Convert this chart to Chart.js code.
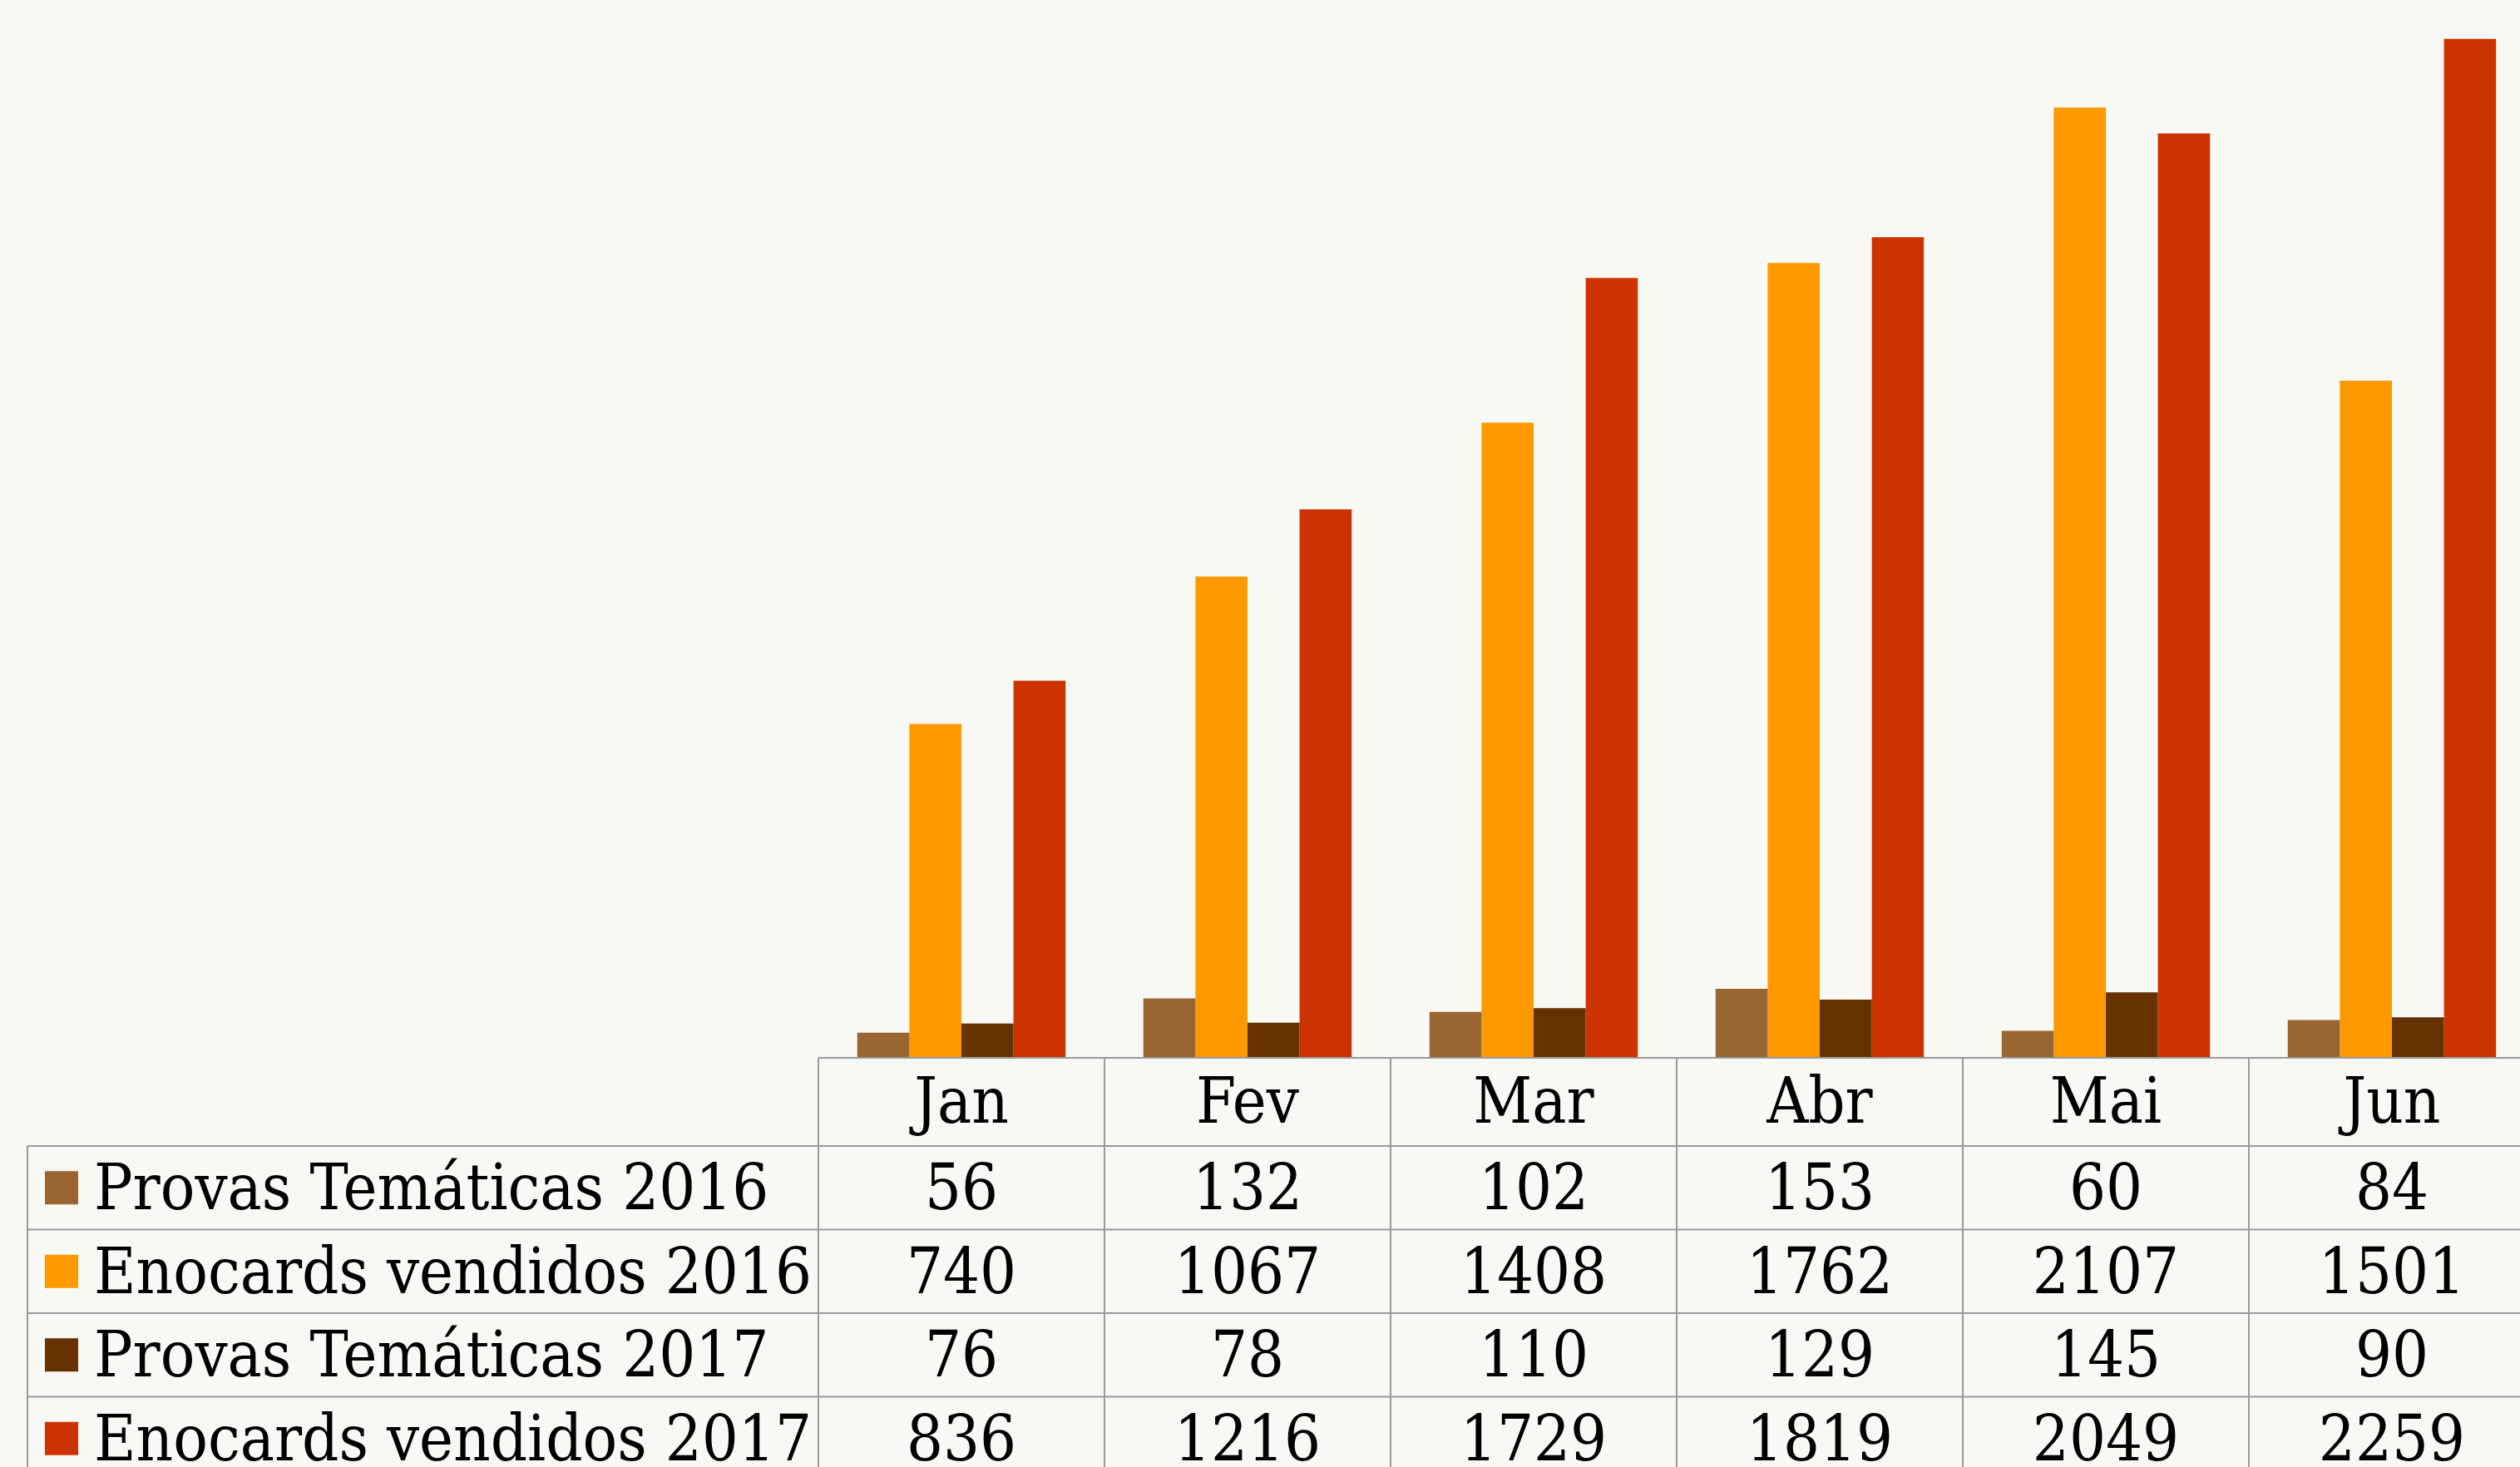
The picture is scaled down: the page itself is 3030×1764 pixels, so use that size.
<!DOCTYPE html>
<html>
<head>
<meta charset="utf-8">
<script src="https://cdn.jsdelivr.net/npm/chart.js@4.4.1/dist/chart.umd.min.js"></script>
<style>
  html, body { margin: 0; padding: 0; background: #f8f8f4; overflow: hidden; }
  body { width: 3030px; height: 1764px; position: relative; }
  #myChart { position: absolute; left: 0; top: -84px; }
</style>
</head>
<body>
<canvas id="myChart" width="3100" height="1900"></canvas>
<script>
// data
const meses = ['Jan', 'Fev', 'Mar', 'Abr', 'Mai', 'Jun'];
const provas2016 = [56, 132, 102, 153, 60, 84];
const enocards2016 = [740, 1067, 1408, 1762, 2107, 1501];
const provas2017 = [76, 78, 110, 129, 145, 90];
const enocards2017 = [836, 1216, 1729, 1819, 2049, 2259];
const series = ['Provas Temáticas 2016', 'Enocards vendidos 2016', 'Provas Temáticas 2017', 'Enocards vendidos 2017'];
const cores = ['#996633', '#ff9900', '#663300', '#cc3300'];

const FONT = '77px "DejaVu Serif Condensed", "DejaVu Serif", serif';

// tabela de dados por baixo do grafico (estilo Excel)
const tabela = {
  id: 'tabela',
  afterDraw(chart) {
    const ctx = chart.ctx;
    const area = chart.chartArea;
    const n = meses.length;
    const w = (area.right - area.left) / n;
    const headH = 106, rowH = 100.5;
    const legLeft = 33;
    const top = area.bottom;
    const headBottom = top + headH;
    const bottom = headBottom + rowH * series.length;

    ctx.save();
    ctx.strokeStyle = '#9a9a9a';
    ctx.lineWidth = 2;
    ctx.beginPath();
    // linha do eixo / topo do cabecalho
    ctx.moveTo(area.left, top);
    ctx.lineTo(area.right + 10, top);
    for (let i = 0; i <= n; i++) {
      const x = area.left + i * w;
      ctx.moveTo(x, top);
      ctx.lineTo(x, bottom);
    }
    for (let r = 0; r <= series.length; r++) {
      const y = headBottom + r * rowH;
      ctx.moveTo(legLeft, y);
      ctx.lineTo(area.right + 10, y);
    }
    ctx.moveTo(legLeft, headBottom);
    ctx.lineTo(legLeft, bottom);
    ctx.stroke();

    ctx.fillStyle = '#000';
    ctx.font = FONT;
    ctx.textBaseline = 'alphabetic';
    ctx.textAlign = 'center';
    meses.forEach((m, i) => {
      ctx.fillText(m, chart.scales.x.getPixelForValue(i), top + 78);
    });
    chart.data.datasets.forEach((ds, r) => {
      const y0 = headBottom + r * rowH;
      ds.data.forEach((v, i) => {
        ctx.fillStyle = '#000';
        ctx.textAlign = 'center';
        ctx.fillText(String(v), chart.scales.x.getPixelForValue(i), y0 + 76);
      });
      ctx.fillStyle = ds.backgroundColor;
      ctx.fillRect(54, y0 + rowH / 2 - 20, 40, 40);
      ctx.fillStyle = '#000';
      ctx.textAlign = 'left';
      ctx.fillText(ds.label, 113, y0 + 76);
    });
    ctx.restore();
  }
};

const data = {
  labels: meses,
  datasets: [
    { label: series[0], data: provas2016, backgroundColor: cores[0] },
    { label: series[1], data: enocards2016, backgroundColor: cores[1] },
    { label: series[2], data: provas2017, backgroundColor: cores[2] },
    { label: series[3], data: enocards2017, backgroundColor: cores[3] }
  ]
};

const config_bar = {
  type: 'bar',
  data,
  options: {
    responsive: false,
    animation: false,
    events: [],
    layout: { padding: { left: 984, right: 52, top: 0, bottom: 544 } },
    datasets: { bar: { categoryPercentage: 0.728, barPercentage: 1.0, borderWidth: 0 } },
    scales: {
      x: { display: false },
      y: { display: false, min: 0, max: 2500 }
    },
    plugins: {
      legend: { display: false },
      tooltip: { enabled: false }
    }
  },
  plugins: [tabela]
};

const myChart = new Chart(document.getElementById('myChart'), config_bar);
</script>
</body>
</html>
